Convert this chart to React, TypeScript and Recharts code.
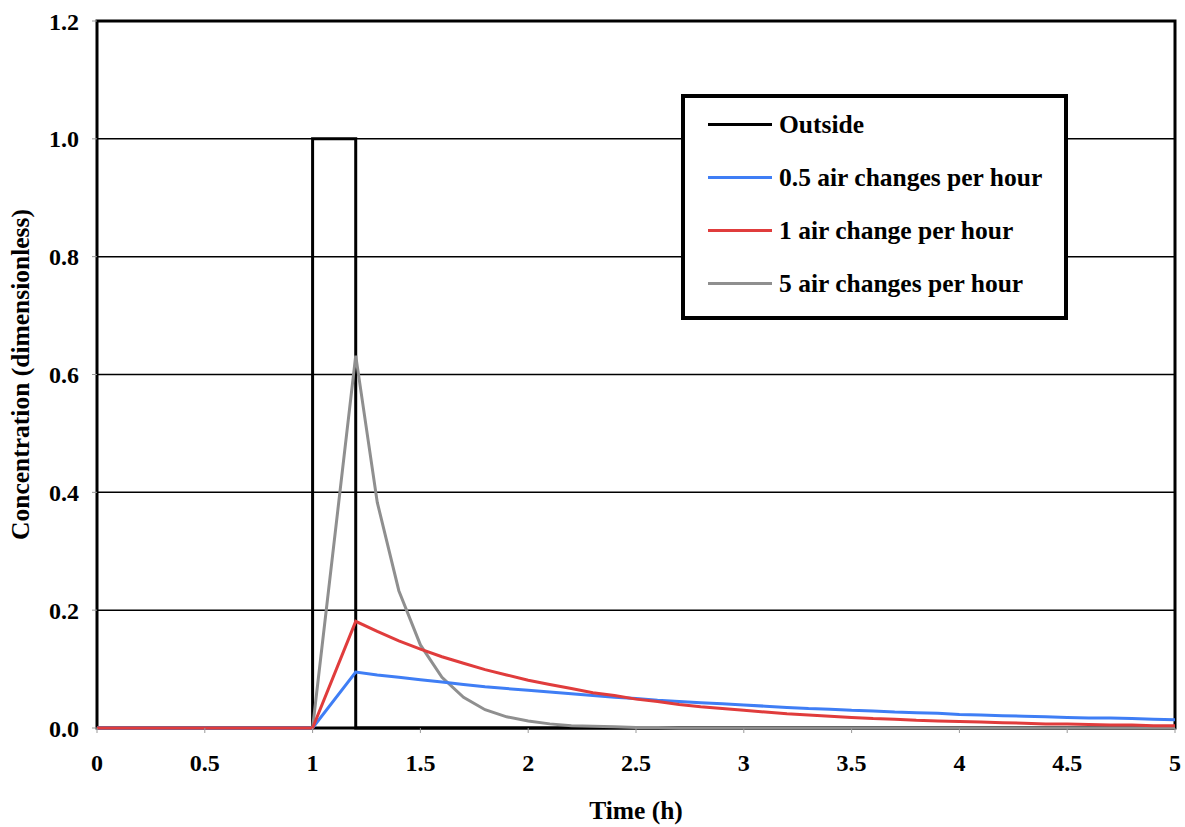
import React from 'react';
import {
  LineChart,
  Line,
  XAxis,
  YAxis,
  CartesianGrid,
  ReferenceArea,
} from 'recharts';

const FONT = '"Liberation Serif", "Times New Roman", serif';

// time points (h) for the indoor curves
const times = [
  0, 1, 1.2, 1.3, 1.4, 1.5, 1.6, 1.7, 1.8, 1.9, 2.0, 2.1, 2.2, 2.3, 2.4, 2.5, 2.6, 2.7, 2.8, 2.9, 3.0,
  3.1, 3.2, 3.3, 3.4, 3.5, 3.6, 3.7, 3.8, 3.9, 4.0, 4.1, 4.2, 4.3, 4.4, 4.5, 4.6, 4.7, 4.8, 4.9, 5.0,
];

const halfAch = [
  0, 0, 0.095, 0.09, 0.086, 0.082, 0.078, 0.074, 0.07, 0.067, 0.064, 0.061, 0.058, 0.055, 0.052, 0.05,
  0.047, 0.045, 0.043, 0.041, 0.039, 0.037, 0.035, 0.033, 0.032, 0.03, 0.029, 0.027, 0.026, 0.025,
  0.023, 0.022, 0.021, 0.02, 0.019, 0.018, 0.017, 0.017, 0.016, 0.015, 0.014,
];

const oneAch = [
  0, 0, 0.181, 0.164, 0.148, 0.134, 0.121, 0.11, 0.099, 0.09, 0.081, 0.074, 0.067, 0.06, 0.055, 0.049,
  0.045, 0.04, 0.036, 0.033, 0.03, 0.027, 0.024, 0.022, 0.02, 0.018, 0.016, 0.015, 0.013, 0.012, 0.011,
  0.01, 0.009, 0.008, 0.007, 0.007, 0.006, 0.005, 0.005, 0.004, 0.004,
];

const fiveAch = [
  0, 0, 0.632, 0.383, 0.233, 0.141, 0.086, 0.052, 0.031, 0.019, 0.012, 0.007, 0.004, 0.003, 0.002,
  0.001, 0.001, 0, 0, 0, 0, 0, 0, 0, 0, 0, 0, 0, 0, 0, 0, 0, 0, 0, 0, 0, 0, 0, 0, 0, 0,
];

// outside concentration: a square pulse
const outsideTimes = [0, 1, 1, 1.2, 1.2, 5];
const outsideValues = [0, 0, 1, 1, 0, 0];

const xTicks = [0, 0.5, 1, 1.5, 2, 2.5, 3, 3.5, 4, 4.5, 5];
const yTicks = [0, 0.2, 0.4, 0.6, 0.8, 1.0, 1.2];

const series = [
  { key: 'outside', name: 'Outside', color: '#000000' },
  { key: 'half', name: '0.5 air changes per hour', color: '#3f7ef5' },
  { key: 'one', name: '1 air change per hour', color: '#e03c3c' },
  { key: 'five', name: '5 air changes per hour', color: '#8f8f8f' },
];

const curveData = times.map((t, i) => ({
  t,
  half: halfAch[i],
  one: oneAch[i],
  five: fiveAch[i],
}));

const outsideData = outsideTimes.map((t, i) => ({ t, outside: outsideValues[i] }));

const LegendBox = () => (
  <div
    style={{
      position: 'absolute',
      left: 681,
      top: 94,
      border: '4px solid #000',
      background: '#fff',
      width: 379,
      height: 218,
    }}
  >
    {series.map((s) => (
      <div key={s.key} style={{ display: 'flex', alignItems: 'center', height: 53 }}>
        <div style={{ width: 64, height: 3, background: s.color, marginLeft: 23, marginRight: 7 }} />
        <span style={{ fontFamily: FONT, fontWeight: 'bold', fontSize: 25.5, color: '#000', whiteSpace: 'nowrap' }}>
          {s.name}
        </span>
      </div>
    ))}
  </div>
);

export default function App() {
  const tickStyle = { fontFamily: FONT, fontWeight: 'bold', fontSize: 24, fill: '#000' };
  const titleStyle = { ...tickStyle, fontSize: 25.5 };
  return (
    <div style={{ position: 'absolute', left: 0, top: 0, width: 1185, height: 827, background: '#fff' }}>
      <LineChart width={1185} height={827} margin={{ top: 21, right: 10, bottom: 0, left: 0 }}>
        <CartesianGrid horizontal vertical={false} stroke="#000" strokeWidth={1.5} />
        <XAxis
          dataKey="t"
          type="number"
          domain={[0, 5]}
          ticks={xTicks}
          allowDuplicatedCategory={false}
          height={99}
          axisLine={false}
          tickSize={5}
          tickMargin={21}
          tickLine={{ stroke: '#999' }}
          tick={tickStyle}
          label={{ value: 'Time (h)', position: 'insideBottom', offset: 8, style: titleStyle }}
        />
        <YAxis
          type="number"
          domain={[0, 1.2]}
          ticks={yTicks}
          width={97}
          axisLine={false}
          tickSize={5}
          tickMargin={13}
          tickLine={{ stroke: '#999' }}
          tick={tickStyle}
          tickFormatter={(v: number) => v.toFixed(1)}
          label={{
            value: 'Concentration (dimensionless)',
            angle: -90,
            position: 'insideLeft',
            offset: 20,
            style: { ...titleStyle, textAnchor: 'middle' },
          }}
        />
        <Line
          data={outsideData}
          dataKey="outside"
          name="Outside"
          type="linear"
          stroke="#000"
          strokeWidth={3}
          dot={false}
          isAnimationActive={false}
        />
        <Line
          data={curveData}
          dataKey="five"
          name="5 air changes per hour"
          type="linear"
          stroke="#8f8f8f"
          strokeWidth={3}
          dot={false}
          isAnimationActive={false}
        />
        <Line
          data={curveData}
          dataKey="half"
          name="0.5 air changes per hour"
          type="linear"
          stroke="#3f7ef5"
          strokeWidth={3}
          dot={false}
          isAnimationActive={false}
        />
        <Line
          data={curveData}
          dataKey="one"
          name="1 air change per hour"
          type="linear"
          stroke="#e03c3c"
          strokeWidth={3}
          dot={false}
          isAnimationActive={false}
        />
        <ReferenceArea x1={0} x2={5} y1={0} y2={1.2} fill="none" stroke="#000" strokeWidth={3} />
      </LineChart>
      <LegendBox />
    </div>
  );
}
